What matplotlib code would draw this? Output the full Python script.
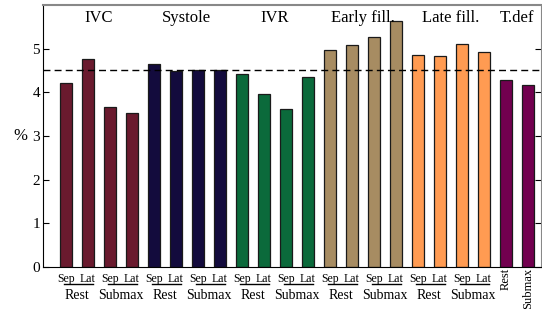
import matplotlib.pyplot as plt
import numpy as np

plt.rcParams['font.family'] = ['Liberation Serif', 'DejaVu Serif']

# phases and their bar values (%), ordered Rest Sep, Rest Lat, Submax Sep, Submax Lat
phases = ['IVC', 'Systole', 'IVR', 'Early fill.', 'Late fill.', 'T.def']
ivc = [4.22, 4.76, 3.67, 3.52]
systole = [4.65, 4.48, 4.52, 4.50]
ivr = [4.41, 3.97, 3.61, 4.36]
early_fill = [4.96, 5.09, 5.27, 5.63]
late_fill = [4.86, 4.84, 5.11, 4.92]
t_def = [4.29, 4.16]
phase_colors = ['#6a1a2e', '#130b3d', '#0b6a3b', '#a78c62', '#ff9b52', '#72004f']
reference_level = 4.5

conditions = ['Rest', 'Submax']
walls = ['Sep', 'Lat']

series = [ivc, systole, ivr, early_fill, late_fill, t_def]

fig = plt.figure(figsize=(5.42, 3.09), dpi=100)
ax = fig.add_axes([0.079, 0.136, 0.919, 0.848])

pos = 0
group_centers = []
positions_all = []
for vals, col in zip(series, phase_colors):
    xs = np.arange(pos, pos + len(vals))
    ax.bar(xs, vals, width=0.55, color=col, edgecolor='#1a1a1a', linewidth=0.9)
    group_centers.append(xs.mean())
    positions_all.append(xs)
    pos += len(vals)

ax.axhline(reference_level, color='black', linestyle=(0, (5, 3)), linewidth=1.0)

for name, xc in zip(phases, group_centers):
    ax.text(xc, 5.7, name, ha='center', va='center', fontsize=12)

ax.set_xlim(-1.05, 21.6)
ax.set_ylim(0, 6)
ax.set_yticks(range(6))
ax.tick_params(axis='y', direction='in', length=4, labelsize=11, right=True, pad=2)
ax.set_xticks([])
ax.set_ylabel('%', rotation=0, fontsize=12, labelpad=8, va='center')
ax.yaxis.set_label_coords(-0.045, 0.5)

ax.spines['top'].set_color('#888888')
ax.spines['top'].set_linewidth(1.5)
ax.spines['right'].set_color('#888888')

trans = ax.get_xaxis_transform()
for xs in positions_all[:-1]:
    for k, cond in enumerate(conditions):
        a, b = xs[2 * k], xs[2 * k + 1]
        ax.text(a, -0.022, walls[0], transform=trans, ha='center', va='top', fontsize=8.5)
        ax.text(b, -0.022, walls[1], transform=trans, ha='center', va='top', fontsize=8.5)
        ax.plot([a - 0.1, b + 0.25], [-0.065, -0.065], transform=trans, color='black',
                linewidth=1.0, clip_on=False)
        ax.text((a + b) / 2, -0.083, cond, transform=trans, ha='center', va='top', fontsize=10)

for x, cond in zip(positions_all[-1], conditions):
    ax.text(x, -0.004, cond, transform=trans, ha='center', va='top', rotation=90, fontsize=9)

fig.savefig('out.png', dpi=100)
